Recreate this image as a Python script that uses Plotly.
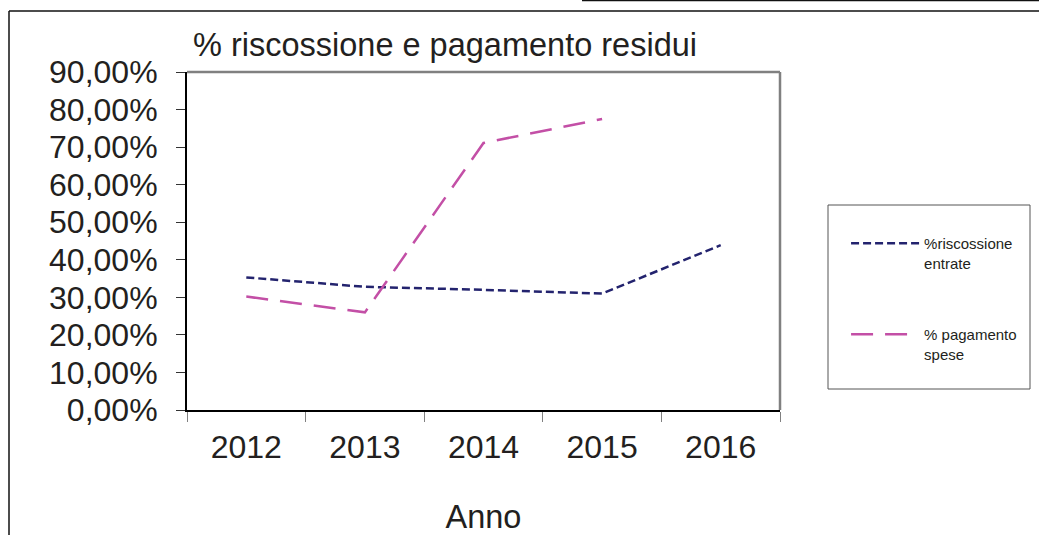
import plotly.graph_objects as go

anni = ["2012", "2013", "2014", "2015", "2016"]
riscossione_entrate = [0.353, 0.328, 0.320, 0.310, 0.439]
pagamento_spese = [0.302, 0.260, 0.711, 0.775, None]

font_base = "Liberation Sans, Arial, sans-serif"

fig = go.Figure()
fig.add_trace(go.Scatter(
    x=anni, y=riscossione_entrate, mode="lines",
    name="%riscossione<br>entrate", legendgroup="a",
    line=dict(color="#23236E", width=2.5, dash="8px,4px"),
))
fig.add_trace(go.Scatter(
    x=anni, y=pagamento_spese, mode="lines",
    name="% pagamento<br>spese", legendgroup="b",
    line=dict(color="#C34FA6", width=2.5, dash="22px,12px"),
))

fig.update_layout(
    width=1039, height=535,
    margin=dict(l=187, r=259, t=72, b=125),
    plot_bgcolor="white", paper_bgcolor="white",
    separators=",.",
    font=dict(family=font_base, size=32, color="#231F20"),
    title=dict(text="% riscossione e pagamento residui", x=193 / 1039, xanchor="left",
               y=1 - 45 / 535, yanchor="middle", font=dict(size=32.5)),
    showlegend=True,
    legend=dict(x=(852 - 187) / 593 - 0.01, xanchor="left", y=(410 - 227) / 338, yanchor="top",
                font=dict(size=15), itemwidth=68, tracegroupgap=49, valign="top",
                bgcolor="rgba(0,0,0,0)", borderwidth=0),
    xaxis=dict(
        type="category", range=[-0.5, 4.5], automargin=False,
        showgrid=False, showline=True, linecolor="black", linewidth=2,
        ticks="outside", tickson="boundaries", ticklen=10, tickcolor="#808080",
        tickfont=dict(size=32), ticklabelstandoff=8,
        title=dict(text="Anno", font=dict(size=32.5), standoff=48),
    ),
    yaxis=dict(
        range=[0, 0.9], dtick=0.1, tickformat=".2%", automargin=False,
        showgrid=False, showline=True, linecolor="black", linewidth=2,
        ticks="outside", ticklen=9, tickcolor="#333333",
        tickfont=dict(size=32), ticklabelstandoff=12, zeroline=False,
    ),
)

# bordo grigio dell'area del grafico (alto e destra)
fig.add_shape(type="line", xref="paper", yref="paper", x0=0, x1=1, y0=1, y1=1,
              line=dict(color="#808080", width=2.5))
fig.add_shape(type="line", xref="paper", yref="paper", x0=1, x1=1, y0=0, y1=1,
              line=dict(color="#808080", width=2.5))

# riquadro della legenda
fig.add_shape(type="rect", xref="paper", yref="paper",
              x0=(828 - 187) / 593, x1=(1030 - 187) / 593,
              y0=(410 - 389) / 338, y1=(410 - 205) / 338,
              line=dict(color="#555555", width=1))

# bordi esterni
fig.add_shape(type="line", xref="paper", yref="paper",
              x0=(9 - 187) / 593, x1=(1039 - 187) / 593,
              y0=(410 - 11) / 338, y1=(410 - 11) / 338,
              line=dict(color="#111111", width=1.5))
fig.add_shape(type="line", xref="paper", yref="paper",
              x0=(9 - 187) / 593, x1=(9 - 187) / 593,
              y0=(410 - 11) / 338, y1=(410 - 540) / 338,
              line=dict(color="#111111", width=1.5))
fig.add_shape(type="line", xref="paper", yref="paper",
              x0=(582 - 187) / 593, x1=(1039 - 187) / 593,
              y0=(410 - 0.5) / 338, y1=(410 - 0.5) / 338,
              line=dict(color="#111111", width=1.5))

fig.write_html("out.html", config={"displayModeBar": False},
               post_script="document.body.style.margin='0';")
